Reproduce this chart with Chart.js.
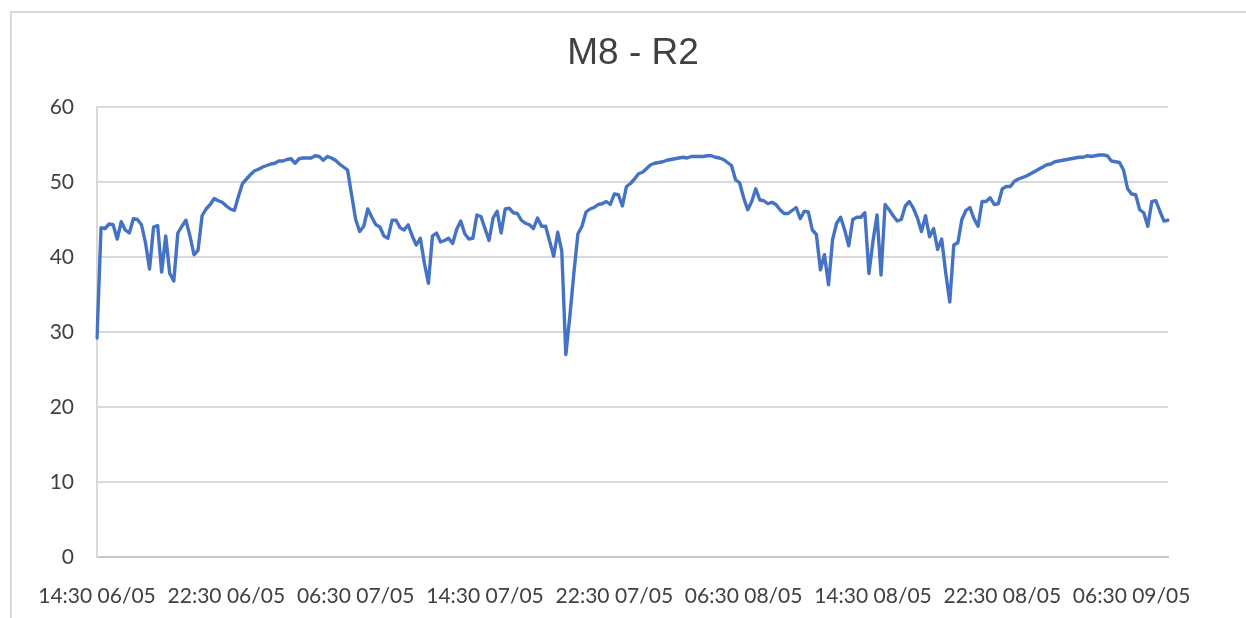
<!DOCTYPE html>
<html>
<head>
<meta charset="utf-8">
<script src="https://cdn.jsdelivr.net/npm/chart.js@4"></script>
<style>
  html, body { margin: 0; padding: 0; background: #fff; overflow: hidden; }
  #frame { position: absolute; left: 10px; top: 11px; width: 1300px; height: 700px; border: 2px solid #d9d9d9; }
  #wrap { position: absolute; left: 0; top: 0; width: 1246px; height: 618px; }
</style>
</head>
<body>
<div id="frame"></div>
<div id="wrap"><canvas id="chart" width="1246" height="618"></canvas></div>
<script>
// readings every 15 minutes, starting 14:30 06/05
const startDay = 6;
const startMinutes = 14 * 60 + 30;
const stepMinutes = 15;
const labelEvery = 32; // one tick label every 8 hours
const chartTitle = "M8 - R2";

const values = [
  29.2, 43.9, 43.8, 44.4, 44.3, 42.4, 44.7, 43.6, 43.2, 45.1,
  45.0, 44.3, 41.9, 38.4, 44.0, 44.2, 38.0, 42.8, 37.8, 36.8,
  43.2, 44.1, 44.9, 42.8, 40.3, 40.9, 45.5, 46.4, 47.0, 47.8,
  47.5, 47.3, 46.8, 46.4, 46.2, 48.1, 49.8, 50.4, 51.0, 51.5,
  51.7, 52.0, 52.2, 52.4, 52.5, 52.8, 52.8, 53.0, 53.1, 52.5,
  53.1, 53.2, 53.2, 53.2, 53.5, 53.4, 52.9, 53.4, 53.2, 52.9,
  52.4, 52.0, 51.6, 48.3, 45.0, 43.4, 44.1, 46.4, 45.3, 44.3,
  44.0, 42.8, 42.5, 44.9, 44.9, 43.9, 43.6, 44.3, 42.8, 41.6,
  42.5, 39.2, 36.5, 42.8, 43.2, 42.0, 42.2, 42.5, 41.8, 43.7,
  44.8, 43.1, 42.4, 42.5, 45.6, 45.4, 43.8, 42.2, 45.2, 46.1,
  43.2, 46.4, 46.5, 45.9, 45.8, 44.9, 44.5, 44.3, 43.8, 45.2,
  44.1, 44.1, 42.1, 40.1, 43.3, 40.8, 27.0, 32.1, 37.9, 43.1,
  44.1, 46.0, 46.4, 46.6, 47.0, 47.1, 47.4, 47.0, 48.4, 48.3,
  46.8, 49.4, 49.8, 50.4, 51.1, 51.3, 51.8, 52.3, 52.5, 52.6,
  52.7, 52.9, 53.0, 53.1, 53.2, 53.3, 53.2, 53.4, 53.4, 53.4,
  53.4, 53.5, 53.5, 53.3, 53.2, 53.0, 52.6, 52.2, 50.3, 49.9,
  47.9, 46.3, 47.4, 49.1, 47.6, 47.5, 47.1, 47.3, 47.0, 46.3,
  45.8, 45.8, 46.2, 46.6, 45.1, 46.1, 46.0, 43.6, 43.0, 38.3,
  40.3, 36.3, 42.3, 44.5, 45.3, 43.6, 41.5, 45.0, 45.3, 45.3,
  45.9, 37.8, 42.1, 45.6, 37.6, 47.0, 46.3, 45.5, 44.8, 45.0,
  46.8, 47.4, 46.5, 45.2, 43.4, 45.5, 42.7, 43.8, 41.0, 42.4,
  37.9, 34.0, 41.6, 41.9, 45.0, 46.2, 46.6, 45.1, 44.1, 47.4,
  47.4, 47.9, 47.0, 47.1, 49.1, 49.4, 49.4, 50.1, 50.4, 50.6,
  50.8, 51.1, 51.4, 51.7, 52.0, 52.3, 52.4, 52.7, 52.8, 52.9,
  53.0, 53.1, 53.2, 53.3, 53.3, 53.5, 53.4, 53.5, 53.6, 53.6,
  53.5, 52.8, 52.7, 52.6, 51.6, 49.1, 48.4, 48.3, 46.3, 45.9,
  44.1, 47.4, 47.5, 46.1, 44.8, 44.9
];

const pad = n => String(n).padStart(2, "0");

function timeLabel(i) {
  const total = startMinutes + i * stepMinutes;
  const day = startDay + Math.floor(total / 1440);
  const mins = total % 1440;
  return `${pad(Math.floor(mins / 60))}:${pad(mins % 60)} ${pad(day)}/05`;
}

const categories = values.map((v, i) => timeLabel(i));

const tickFont = { family: "Lato", size: 21 };

// title is centred on the whole chart frame, not on the plot
const frameTitle = {
  id: "frameTitle",
  afterDraw(chart) {
    const ctx = chart.ctx;
    ctx.save();
    ctx.font = "37px 'Liberation Sans'";
    ctx.fillStyle = "#404040";
    ctx.textAlign = "center";
    ctx.textBaseline = "middle";
    ctx.fillText(chartTitle, 633, 54);
    ctx.restore();
  }
};

new Chart(document.getElementById("chart"), {
  type: "line",
  data: {
    labels: categories,
    datasets: [{
      label: chartTitle,
      data: values,
      borderColor: "#4472C4",
      borderWidth: 3.4,
      pointRadius: 0,
      tension: 0,
      borderJoinStyle: "round",
      borderCapStyle: "round"
    }]
  },
  options: {
    responsive: false,
    animation: false,
    layout: { padding: { left: 0, right: 78, top: 107, bottom: 9 } },
    plugins: {
      legend: { display: false },
      tooltip: { enabled: false },
      title: { display: false }
    },
    scales: {
      x: {
        grid: { display: false, drawTicks: false },
        border: { display: true, color: "#c8c8c8", width: 2 },
        ticks: {
          autoSkip: false,
          maxRotation: 0,
          minRotation: 0,
          padding: 27,
          color: "#404040",
          font: tickFont,
          callback: function (val, idx) {
            return idx % labelEvery === 0 ? this.getLabelForValue(val) : "";
          }
        },
        afterFit: scale => { scale.height = 52; }
      },
      y: {
        min: 0,
        max: 60,
        grid: { color: "#d9d9d9", lineWidth: 2, drawTicks: false },
        border: { display: true, color: "#d9d9d9", width: 2 },
        ticks: { stepSize: 10, padding: 23, color: "#404040", font: tickFont },
        afterFit: scale => { scale.width = 97; }
      }
    }
  },
  plugins: [frameTitle]
});
</script>
</body>
</html>
